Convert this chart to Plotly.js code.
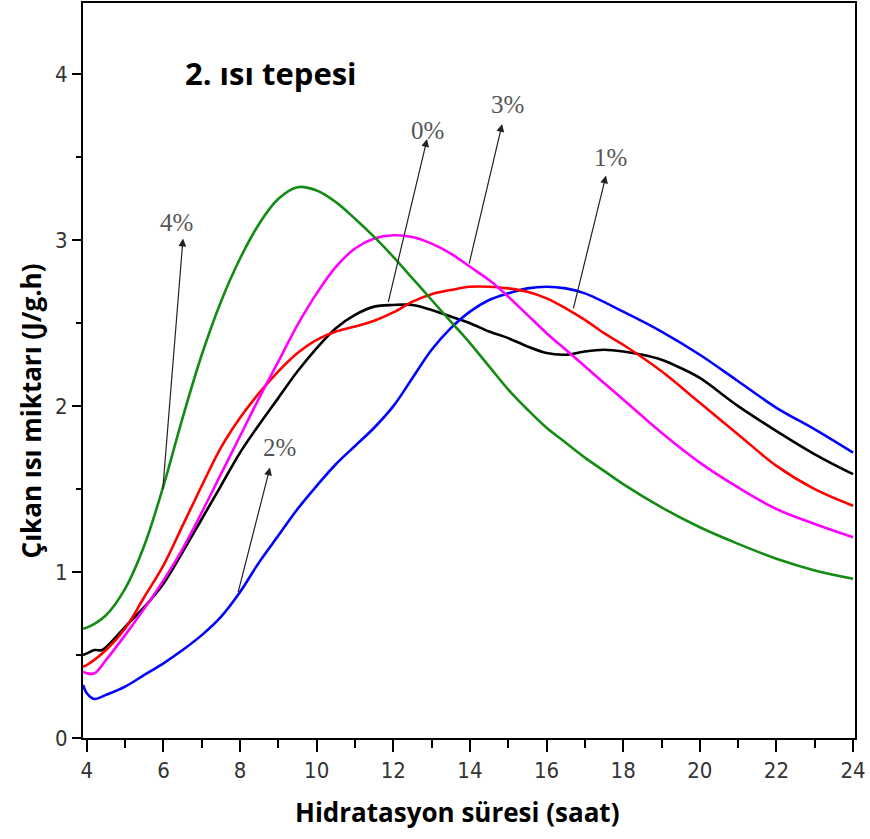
<!DOCTYPE html>
<html>
<head>
<meta charset="utf-8">
<script src="https://cdn.plot.ly/plotly-3.0.1.min.js"></script>
<style>html,body{margin:0;padding:0;background:#fff;}#chart{width:870px;height:839px;}</style>
</head>
<body>
<div id="chart"></div>
<script>
// ---- data ----
const seriesNames = ["0%", "1%", "2%", "3%", "4%"];

const x0 = [3.9,4,4.2,4.4,4.6,5,5.5,6,6.5,7,7.5,8,8.5,9,9.5,10,10.5,11,11.5,12,12.5,13,13.5,14,14.5,15,15.5,16,16.5,17,17.5,18,18.5,19,19.5,20,21,22,23,24];
const y0 = [0.50,0.51,0.53,0.53,0.57,0.67,0.79,0.93,1.12,1.32,1.52,1.72,1.89,2.05,2.21,2.35,2.47,2.55,2.60,2.61,2.61,2.58,2.54,2.50,2.45,2.41,2.36,2.32,2.31,2.33,2.34,2.33,2.31,2.28,2.23,2.17,2.00,1.85,1.71,1.59];

const x1 = [3.9,4,4.2,4.5,5,5.5,6,6.5,7,7.5,8,8.5,9,9.5,10,10.5,11,11.5,12,12.5,13,13.5,14,14.5,15,15.5,16,16.5,17,18,19,20,21,22,23,24];
const y1 = [0.32,0.27,0.235,0.26,0.31,0.38,0.45,0.53,0.62,0.73,0.88,1.06,1.22,1.38,1.52,1.65,1.76,1.87,2.00,2.17,2.34,2.47,2.57,2.64,2.68,2.71,2.72,2.71,2.68,2.57,2.45,2.31,2.15,1.99,1.86,1.72];

const x2 = [3.9,4,4.5,5,5.5,6,6.5,7,7.5,8,8.5,9,9.5,10,10.5,11,11.5,12,12.5,13,13.5,14,14.5,15,15.5,16,16.5,17,17.5,18,19,20,21,22,23,24];
const y2 = [0.43,0.44,0.53,0.66,0.85,1.04,1.28,1.52,1.75,1.93,2.08,2.21,2.32,2.40,2.45,2.48,2.515,2.565,2.63,2.675,2.70,2.72,2.72,2.71,2.69,2.65,2.59,2.52,2.44,2.37,2.21,2.02,1.83,1.64,1.50,1.40];

const x3 = [3.9,4,4.2,4.5,5,5.5,6,6.5,7,7.5,8,8.5,9,9.5,10,10.5,11,11.5,12,12.5,13,13.5,14,14.5,15,15.5,16,16.5,17,17.5,18,19,20,21,22,23,24];
const y3 = [0.40,0.39,0.39,0.47,0.62,0.78,0.95,1.14,1.36,1.59,1.82,2.05,2.27,2.49,2.68,2.84,2.95,3.01,3.03,3.02,2.98,2.92,2.84,2.76,2.66,2.55,2.44,2.34,2.24,2.14,2.04,1.84,1.66,1.51,1.38,1.29,1.21];

const x4 = [3.9,4,4.5,5,5.5,6,6.5,7,7.5,8,8.5,9,9.5,10,10.5,11,11.5,12,12.5,13,13.5,14,14.5,15,15.5,16,16.5,17,17.5,18,19,20,21,22,23,24];
const y4 = [0.66,0.665,0.74,0.90,1.16,1.52,1.93,2.31,2.63,2.89,3.10,3.25,3.32,3.30,3.23,3.13,3.02,2.90,2.77,2.64,2.51,2.38,2.24,2.10,1.98,1.87,1.78,1.69,1.61,1.53,1.39,1.27,1.17,1.08,1.01,0.96];

const xTickVals = [4,6,8,10,12,14,16,18,20,22,24];
const yTickVals = [0,1,2,3,4];

// label placements (data coords) and arrows (tail on curve -> head near label)
const labelText = ["4%", "2%", "0%", "3%", "1%"];
const labelX = [6.35, 9.04, 12.88, 14.99, 17.66];
const labelY = [3.11, 1.75, 3.66, 3.82, 3.50];
const arrowTailX = [5.98, 7.94, 11.86, 13.97, 16.69];
const arrowTailY = [1.49, 0.87, 2.62, 2.85, 2.58];
const arrowHeadX = [6.51, 8.78, 12.88, 14.84, 17.55];
const arrowHeadY = [3.01, 1.63, 3.61, 3.70, 3.39];

const titleText = "2. ısı tepesi";
const xTitle = "Hidratasyon süresi (saat)";
const yTitle = "Çıkan ısı miktarı (J/g.h)";

// ---- traces ----
const colors = ["#000000", "#0000ff", "#ff0000", "#ff00ff", "#128c12"];
const xs = [x0, x1, x2, x3, x4];
const ys = [y0, y1, y2, y3, y4];
const traces = xs.map((x, i) => ({
  x: x, y: ys[i], name: seriesNames[i], type: "scatter", mode: "lines",
  line: {color: colors[i], width: 2.6, shape: "spline", smoothing: 1},
  hoverinfo: "skip"
}));

const boldFont = "Open Sans, Lato, sans-serif";
const tickFont = {family: "Liberation Sans Narrow, DejaVu Sans Condensed, Arial Narrow, sans-serif", size: 22, color: "#333"};

const annotations = [];
for (let i = 0; i < labelText.length; i++) {
  annotations.push({
    x: arrowHeadX[i], y: arrowHeadY[i], xref: "x", yref: "y",
    ax: arrowTailX[i], ay: arrowTailY[i], axref: "x", ayref: "y",
    text: "", showarrow: true, arrowhead: 2, arrowsize: 1.3, arrowwidth: 1.2,
    arrowcolor: "#222"
  });
  annotations.push({
    x: labelX[i], y: labelY[i], xref: "x", yref: "y", text: labelText[i],
    showarrow: false, font: {family: "Liberation Serif, Times New Roman, serif", size: 25, color: "#555"}
  });
}
annotations.push({
  x: 0.13, y: 0.905, xref: "paper", yref: "paper", xanchor: "left", yanchor: "middle",
  text: "<b>" + titleText + "</b>", showarrow: false,
  font: {family: boldFont, size: 31, color: "#000"}
});
annotations.push({
  x: -0.068, y: 0.445, xref: "paper", yref: "paper", textangle: -90,
  text: "<b>" + yTitle + "</b>", showarrow: false, xanchor: "center", yanchor: "middle",
  font: {family: boldFont, size: 26, color: "#000"}
});
annotations.push({
  x: 0.484, y: -0.1007, xref: "paper", yref: "paper",
  text: "<b>" + xTitle + "</b>", showarrow: false, xanchor: "center", yanchor: "middle",
  font: {family: boldFont, size: 26, color: "#000"}
});

const layout = {
  width: 870, height: 839,
  margin: {l: 83, r: 15, t: 3, b: 101},
  paper_bgcolor: "#fff", plot_bgcolor: "#fff",
  showlegend: false,
  xaxis: {
    range: [3.9, 24.05], tickvals: xTickVals, ticktext: xTickVals.map(String),
    ticks: "outside", ticklen: 12, tickwidth: 2, tickcolor: "#000",
    minor: {dtick: 1, tick0: 4, ticks: "outside", ticklen: 8, tickwidth: 2, tickcolor: "#000"},
    showline: true, linecolor: "#000", linewidth: 2, mirror: true,
    showgrid: false, zeroline: false,
    tickfont: tickFont,
    title: {text: ""}
  },
  yaxis: {
    range: [0, 4.43], tickvals: yTickVals, ticktext: yTickVals.map(String),
    ticks: "outside", ticklen: 9, tickwidth: 2, tickcolor: "#000",
    minor: {dtick: 0.5, tick0: 0, ticks: "outside", ticklen: 5, tickwidth: 2, tickcolor: "#000"},
    showline: true, linecolor: "#000", linewidth: 2, mirror: true,
    showgrid: false, zeroline: false,
    tickfont: tickFont,
    title: {text: ""}
  },
  annotations: annotations
};

Plotly.newPlot("chart", traces, layout, {displayModeBar: false, staticPlot: true});
</script>
</body>
</html>
